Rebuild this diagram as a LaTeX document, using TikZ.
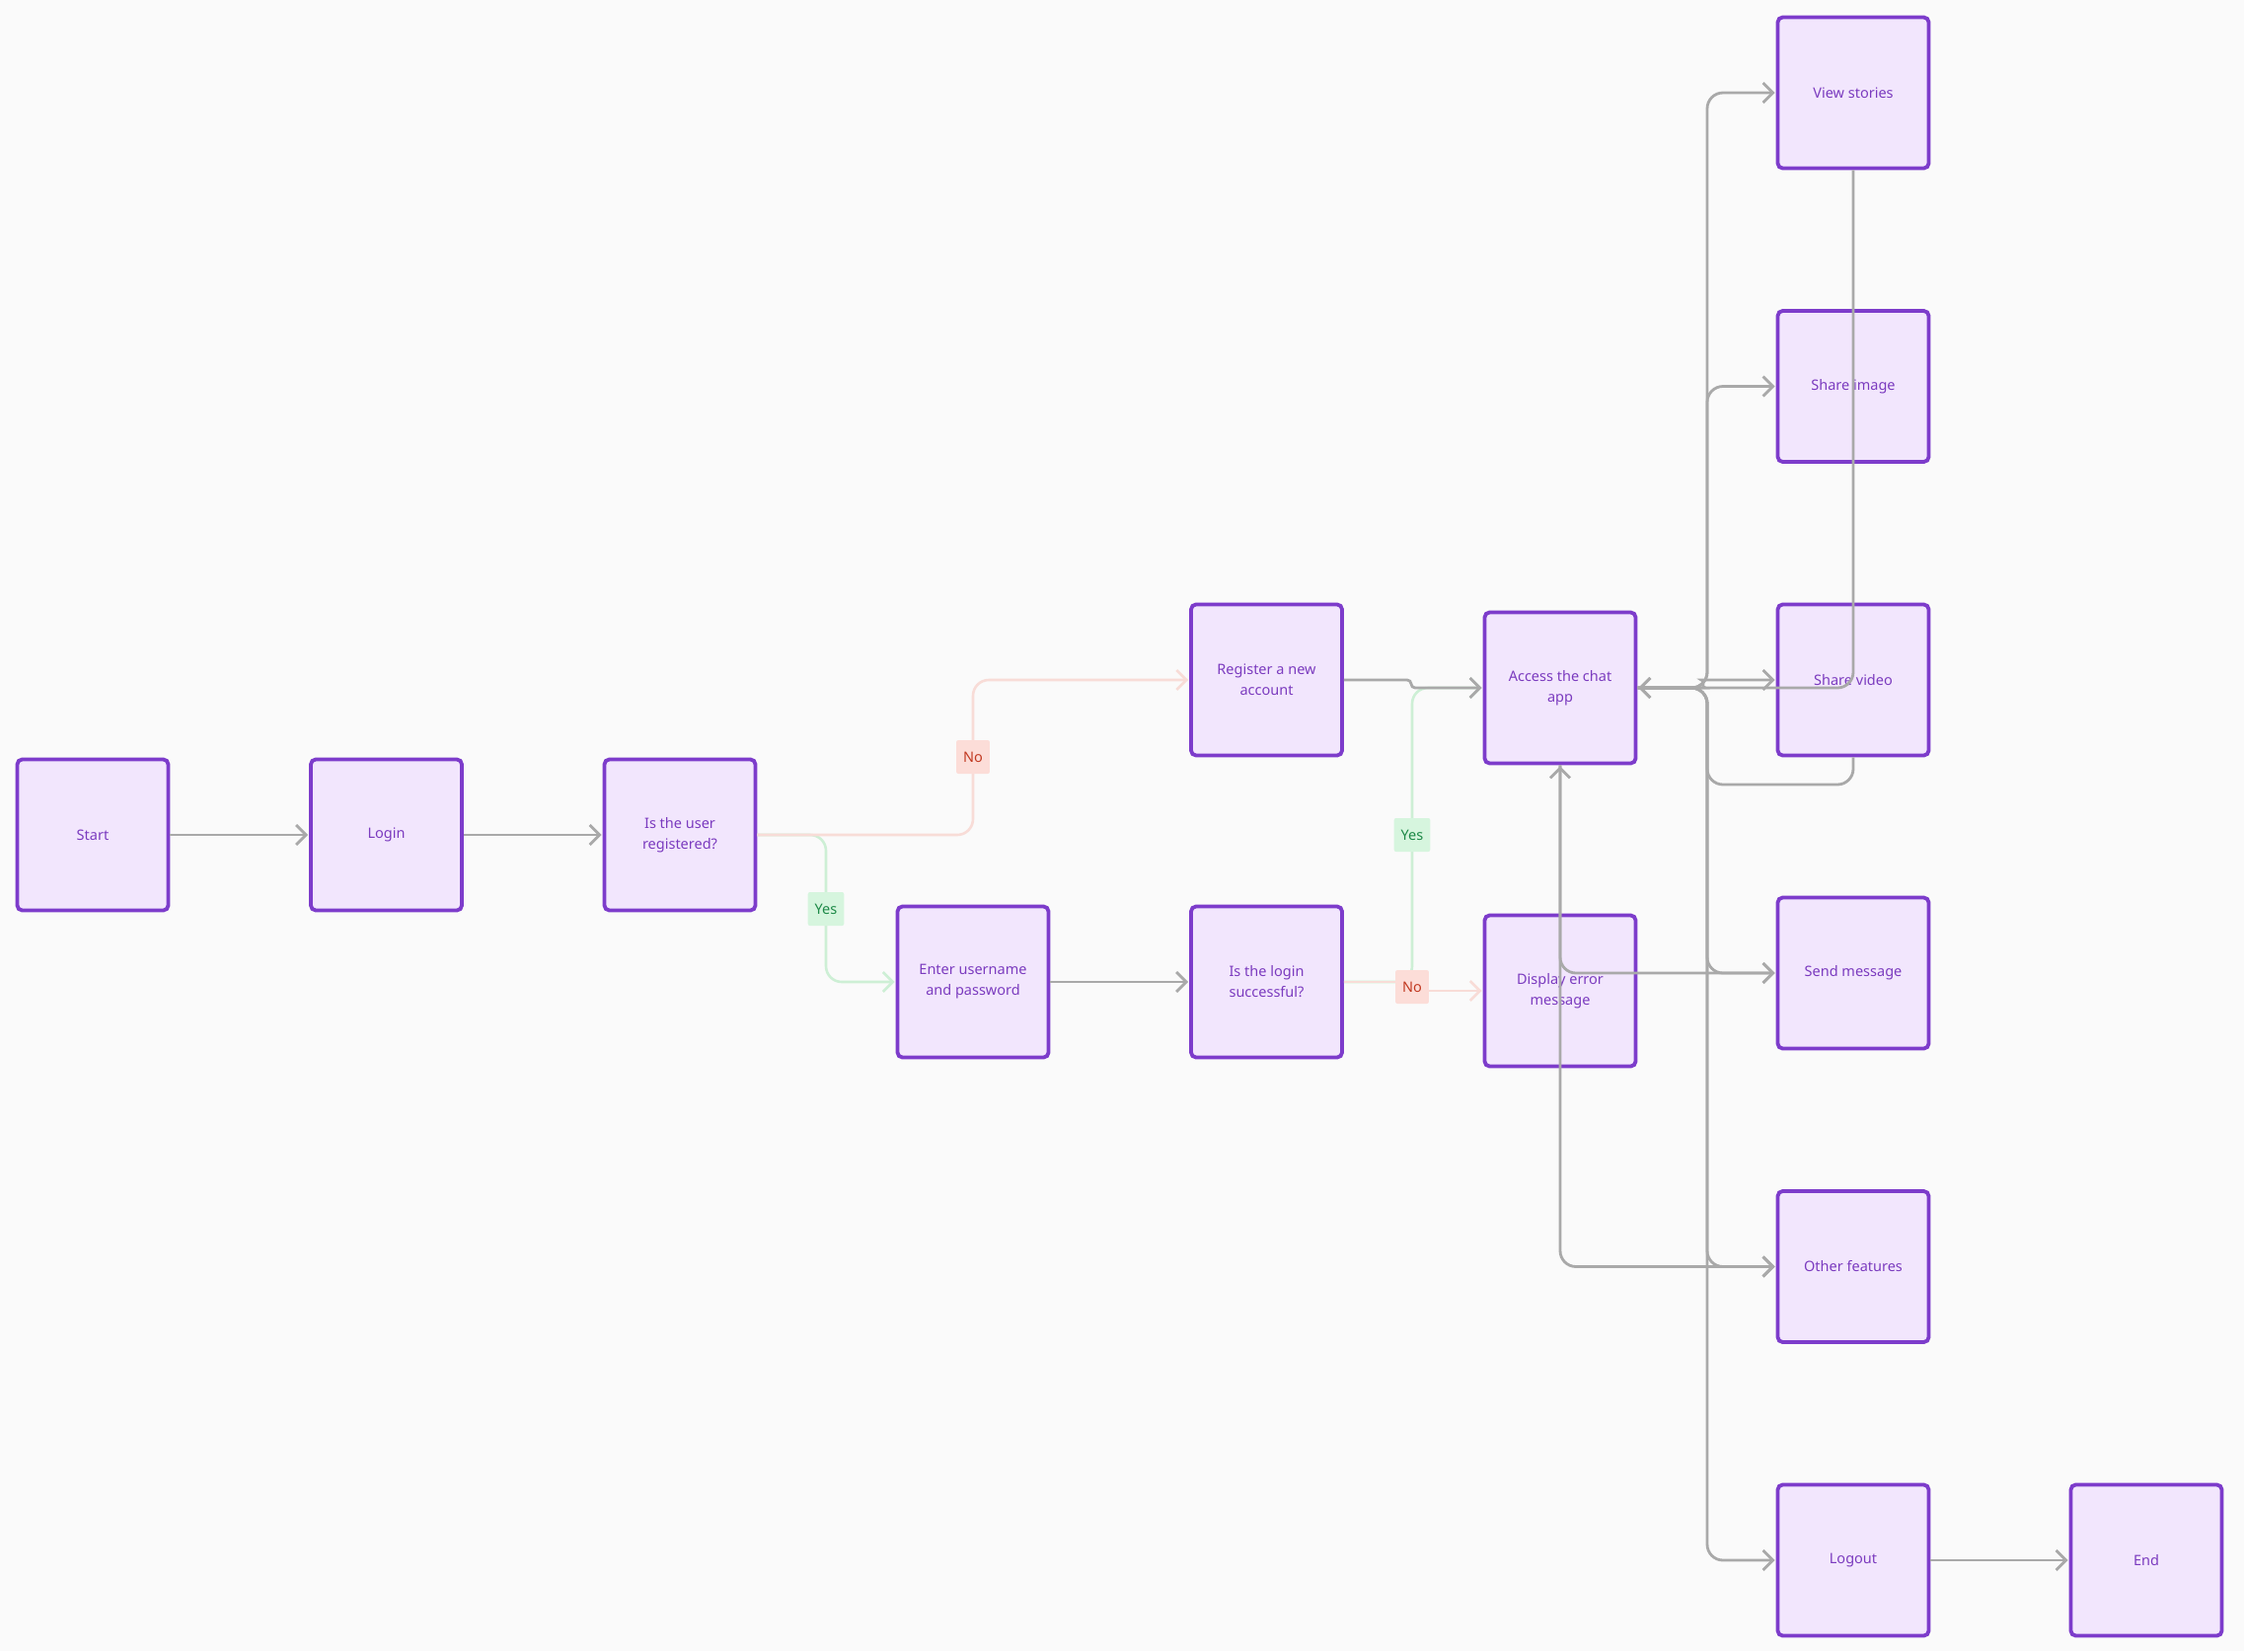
\documentclass[tikz,border=0pt]{standalone}
\usepackage{fontspec}
\setmainfont{Noto Sans}
\usetikzlibrary{arrows.meta}
\definecolor{bg}{HTML}{FAFAFA}
\definecolor{boxfill}{HTML}{F2E6FD}
\definecolor{boxdraw}{HTML}{7D3CCB}
\definecolor{boxtext}{HTML}{7B3BBF}
\definecolor{edgegray}{HTML}{A9A9A9}
\definecolor{nofill}{HTML}{FCDDD8}
\definecolor{notext}{HTML}{C23A22}
\definecolor{noline}{HTML}{F8DCD7}
\definecolor{yesfill}{HTML}{D6F5DE}
\definecolor{yestext}{HTML}{1E8A48}
\definecolor{yesline}{HTML}{CDEFD5}
\begin{document}
\begin{tikzpicture}[x=1pt,y=-1pt,
  box/.style={draw=boxdraw, fill=boxfill, line width=3.8pt, rounded corners=5pt,
    minimum width=153pt, minimum height=153pt, text=boxtext,
    font=\fontsize{14.5}{21}\selectfont, align=center, inner sep=0pt},
  tip/.style={-{Straight Barb[length=10pt,width=20pt]}},
  flow/.style={draw=edgegray, line width=2.8pt, rounded corners=16pt, tip, shorten >=1pt},
  noedge/.style={draw=noline, line width=2.6pt, rounded corners=16pt, tip, shorten >=1pt},
  yesedge/.style={draw=yesline, line width=2.6pt, rounded corners=16pt, tip, shorten >=1pt},
  nolab/.style={fill=nofill, text=notext, font=\fontsize{14.5}{17}\selectfont,
    minimum height=34pt, inner xsep=7pt, rounded corners=2pt},
  yeslab/.style={fill=yesfill, text=yestext, font=\fontsize{14.5}{17}\selectfont,
    minimum height=34pt, inner xsep=7pt, rounded corners=2pt}
]
\fill[bg] (0,0) rectangle (2274,1673);
\useasboundingbox (0,0) rectangle (2274,1673);

\node[box] (start) at (94,846) {Start};
\node[box] (login) at (391.5,846) {Login};
\node[box] (reg) at (689,846) {Is the user\\registered?};
\node[box] (enter) at (986,995) {Enter username\\and password};
\node[box] (lok) at (1283.5,995) {Is the login\\successful?};
\node[box] (register) at (1283.5,689) {Register a new\\account};
\node[box] (access) at (1581,697) {Access the chat\\app};
\node[box] (error) at (1581,1004) {Display error\\message};
\node[box] (views) at (1878,94) {View stories};
\node[box] (simage) at (1878,391.5) {Share image};
\node[box] (svideo) at (1878,689) {Share video};
\node[box] (smsg) at (1878,986) {Send message};
\node[box] (other) at (1878,1283.5) {Other features};
\node[box] (logout) at (1878,1581) {Logout};
\node[box] (endn) at (2175,1581) {End};

% main flow
\draw[flow] (start.east) -- (login.west);
\draw[flow] (login.east) -- (reg.west);
\draw[yesedge] (reg.east) -- (837,846) -- (837,995) -- (enter.west);
\draw[noedge] (reg.east) -- (986,846) -- (986,689) -- (register.west);
\draw[flow] (enter.east) -- (lok.west);
\draw[yesedge] (lok.east) -- (1431,995) -- (1431,697) -- (access.west);
\draw[noedge, rounded corners=0pt] (lok.east) -- (1431,995) -- (1431,1004) -- (error.west);
\draw[flow, rounded corners=4pt] (register.east) -- (1430,689) -- (1430,697) -- (access.west);

% returns into access
\draw[flow] (error.north) -- (access.south);
\draw[flow] (views.south) -- (1878,697) -- (access.east);
\draw[flow] (svideo.south) -- (1878,795) -- (1730,795) -- (1730,697) -- (access.east);

% trunk from access
\draw[flow] (access.east) -- (1730,697) -- (1730,94) -- (views.west);
\draw[flow] (access.east) -- (1730,697) -- (1730,391.5) -- (simage.west);
\draw[flow] (access.east) -- (1712,697) to[out=0,in=180] (1740,689) -- (svideo.west);
\draw[flow] (access.east) -- (1730,697) -- (1730,986) -- (smsg.west);
\draw[flow] (access.east) -- (1730,697) -- (1730,1283.5) -- (other.west);
\draw[flow] (access.east) -- (1730,697) -- (1730,1581) -- (logout.west);
\draw[flow] (access.south) -- (1581,986) -- (smsg.west);
\draw[flow] (access.south) -- (1581,1283.5) -- (other.west);
\draw[flow] (logout.east) -- (endn.west);

% labels
\node[nolab] (no1) at (986,767) {No};
\node[yeslab] (yes1) at (837,921) {Yes};
\node[yeslab] (yes2) at (1431,846) {Yes};
\node[nolab] (no2) at (1431,1000) {No};
\end{tikzpicture}
\end{document}
